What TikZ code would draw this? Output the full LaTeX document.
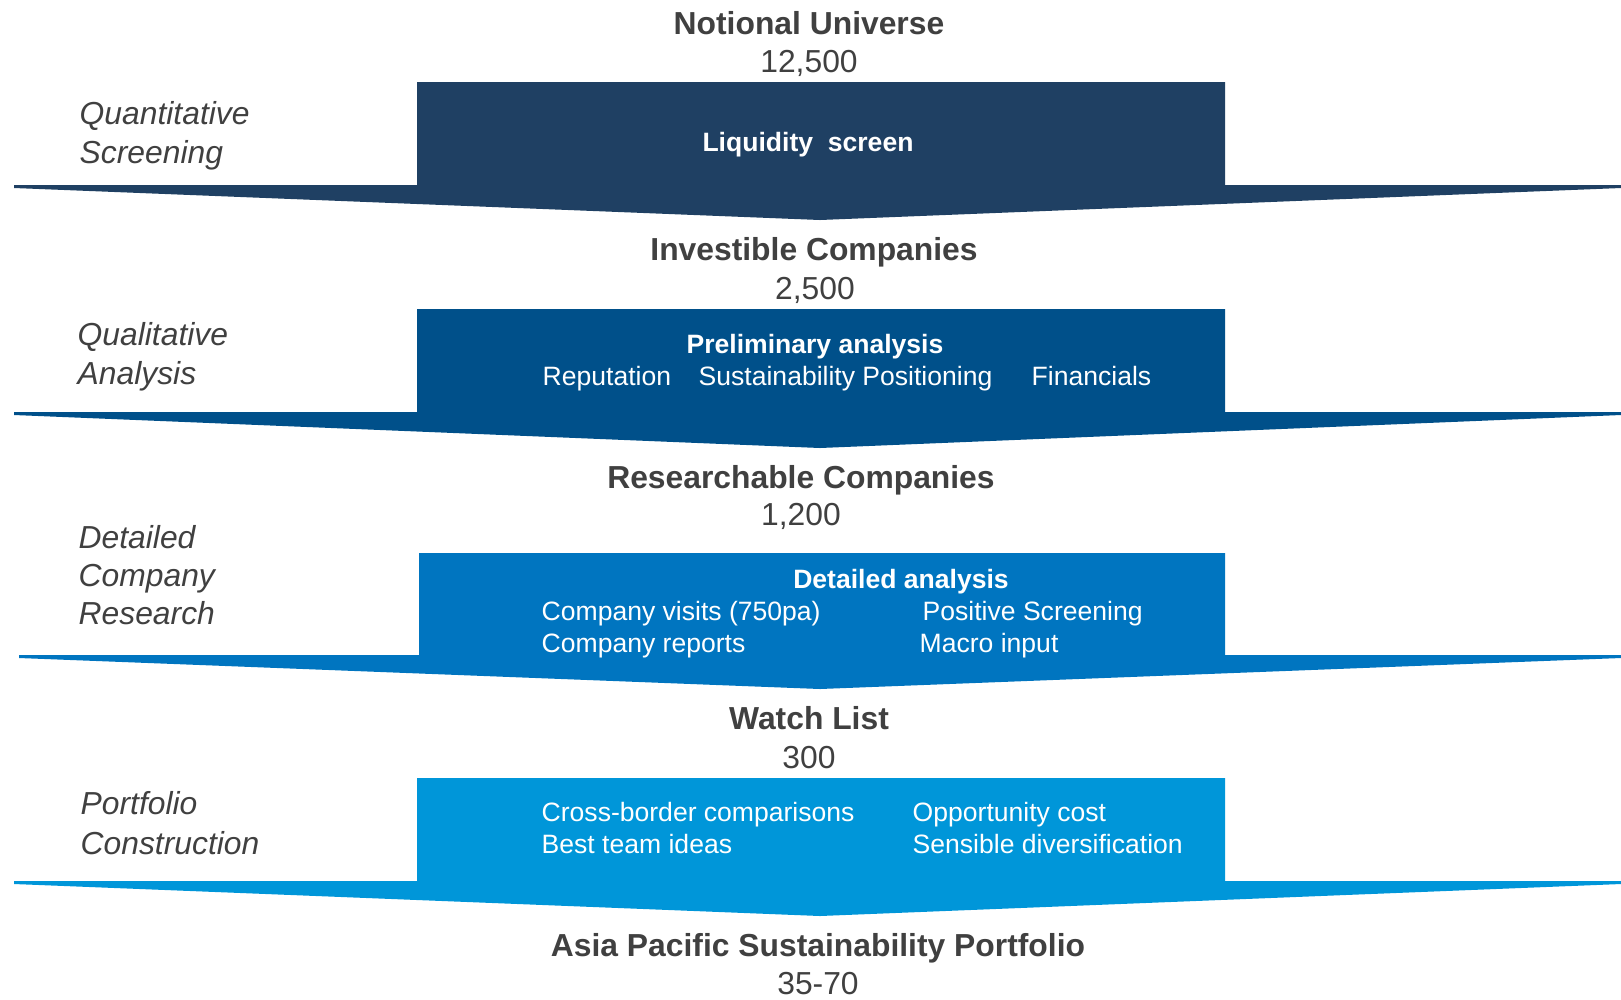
\documentclass[tikz,border=0pt]{standalone}
\usepackage{fontspec}
\setmainfont{Liberation Sans}
\definecolor{txtgray}{HTML}{404040}
\definecolor{stepone}{HTML}{1F4063}
\definecolor{steptwo}{HTML}{00508A}
\definecolor{stepthree}{HTML}{0075C0}
\definecolor{stepfour}{HTML}{0096D9}
\tikzset{head/.style={font=\fontsize{9.05}{11}\selectfont\bfseries,text=txtgray,anchor=base,inner sep=0pt},
 count/.style={font=\fontsize{9.05}{11}\selectfont,text=txtgray,anchor=base,inner sep=0pt},
 stage/.style={font=\fontsize{9.05}{11}\selectfont\itshape,text=txtgray,anchor=base west,inner sep=0pt},
 boxtitle/.style={font=\fontsize{7.55}{9}\selectfont\bfseries,text=white,anchor=base,inner sep=0pt},
 boxitem/.style={font=\fontsize{7.55}{9}\selectfont,text=white,anchor=base west,inner sep=0pt},
 }

\begin{document}
\begin{tikzpicture}[x=0.01cm,y=-0.01cm]
    \useasboundingbox (0,0) rectangle (1621,999);
    % funnel stages
    \fill[stepone] (14,185) -- (417,185) -- (417,82) -- (1225,82) -- (1225,185) -- (1621,185) -- (1621,188) -- (820,220) -- (14,188) -- cycle;
    \fill[steptwo] (14,412) -- (417,412) -- (417,309) -- (1225,309) -- (1225,412) -- (1621,412) -- (1621,415) -- (820,448) -- (14,415) -- cycle;
    \fill[stepthree] (19,655) -- (419,655) -- (419,553) -- (1225,553) -- (1225,655) -- (1621,655) -- (1621,658) -- (820,689) -- (19,658) -- cycle;
    \fill[stepfour] (14,881) -- (417,881) -- (417,778) -- (1225,778) -- (1225,881) -- (1621,881) -- (1621,884) -- (820,916) -- (14,884) -- cycle;
    % universe sizes
    \node[head] (notional) at (809,34) {Notional Universe};
    \node[count] (notionalnum) at (809,72) {12,500};
    \node[head] (investible) at (814,260) {Investible Companies};
    \node[count] (investiblenum) at (815,299) {2,500};
    \node[head] (researchable) at (801,488) {Researchable Companies};
    \node[count] (researchablenum) at (801,525) {1,200};
    \node[head] (watch) at (809,729) {Watch List};
    \node[count] (watchnum) at (809,768) {300};
    \node[head] (portfolio) at (818,956) {Asia Pacific Sustainability Portfolio};
    \node[count] (portfolionum) at (818,994) {35-70};
    % process steps
    \node[stage] (quant1) at (79,124) {Quantitative};
    \node[stage] (quant2) at (79,163) {Screening};
    \node[stage] (qual1) at (77,345) {Qualitative};
    \node[stage] (qual2) at (77,384) {Analysis};
    \node[stage] (detail1) at (78,548) {Detailed};
    \node[stage] (detail2) at (78,586) {Company};
    \node[stage] (detail3) at (78,624) {Research};
    \node[stage] (constr1) at (80,814) {Portfolio};
    \node[stage] (constr2) at (80,854) {Construction};
    % box contents
    \node[boxtitle] (liquidity) at (808,151) {Liquidity\ \ screen};
    \node[boxtitle] (prelim) at (815,353) {Preliminary analysis};
    \node[boxitem] (reputation) at (542,385) {Reputation};
    \node[boxitem] (sustain) at (698,385) {Sustainability Positioning};
    \node[boxitem] (financials) at (1031,385) {Financials};
    \node[boxtitle] (detailed) at (901,588) {Detailed analysis};
    \node[boxitem] (visits) at (541,620) {Company visits (750pa)};
    \node[boxitem] (positive) at (922,620) {Positive Screening};
    \node[boxitem] (reports) at (541,652) {Company reports};
    \node[boxitem] (macro) at (919,652) {Macro input};
    \node[boxitem] (crossborder) at (541,821) {Cross-border comparisons};
    \node[boxitem] (opportunity) at (912,821) {Opportunity cost};
    \node[boxitem] (teamideas) at (541,853) {Best team ideas};
    \node[boxitem] (diversify) at (912,853) {Sensible diversification};
\end{tikzpicture}
\end{document}
